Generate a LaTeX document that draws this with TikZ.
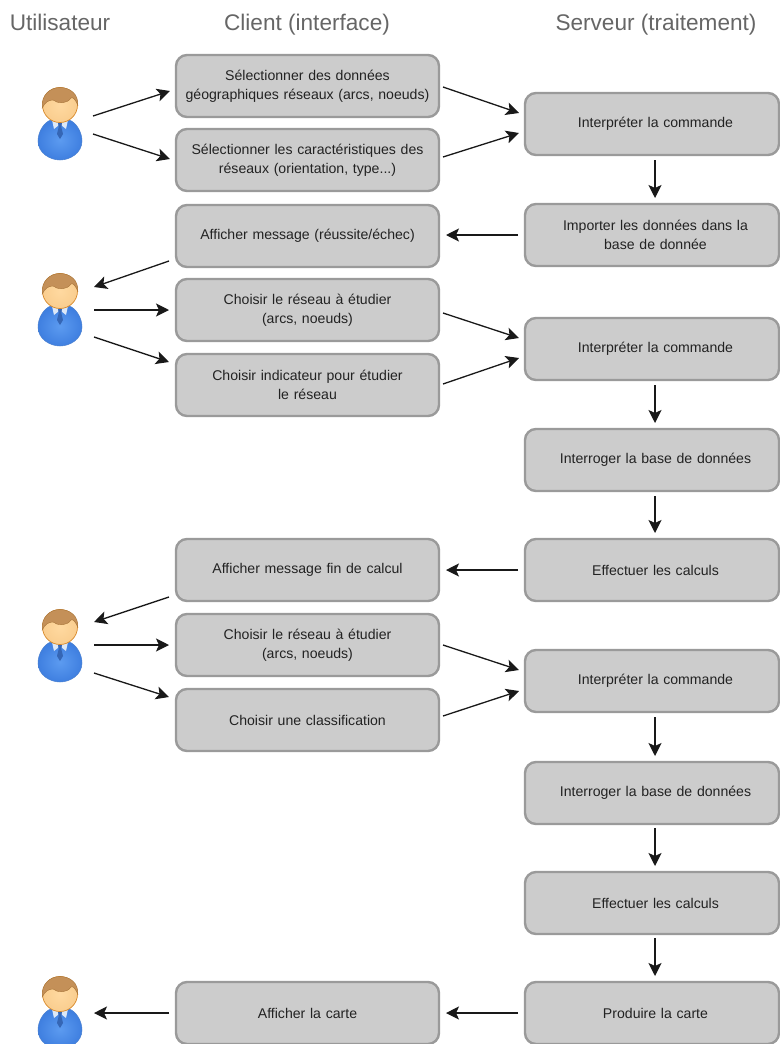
\documentclass[tikz,border=0pt]{standalone}
\usepackage{fontspec}
\setmainfont{Liberation Sans}
\usetikzlibrary{arrows.meta}
\definecolor{boxfill}{HTML}{CCCCCC}
\definecolor{boxline}{HTML}{9A9A9A}
\definecolor{titlegray}{HTML}{666666}
\definecolor{txt}{HTML}{222222}
\definecolor{bodytop}{HTML}{3F7FE0}
\definecolor{bodylow}{HTML}{5C9BF0}
\definecolor{bodyedge}{HTML}{4A80D0}
\definecolor{face}{HTML}{FFD9A0}
\definecolor{faceedge}{HTML}{D98A2B}
\definecolor{hairc}{HTML}{C49058}
\definecolor{hairedge}{HTML}{A87438}
\definecolor{tiec}{HTML}{3566B5}
\definecolor{collar}{HTML}{DCE8F8}
\newcommand\sh{\hspace*{7pt}}
\tikzset{
  x=1pt,y=-1pt,
  box/.style={draw=boxline,fill=boxfill,line width=2.4pt,rounded corners=11pt,inner sep=0pt,outer sep=0pt,
    align=center,text=txt,font=\fontsize{14.1}{19}\selectfont,anchor=north west},
  cbox/.style={box,minimum width=263pt,minimum height=62pt,text width=258pt},
  sbox/.style={box,minimum width=254pt,minimum height=62pt,text width=250pt},
  title/.style={text=titlegray,font=\fontsize{22.6}{26}\selectfont,inner sep=0pt,anchor=base},
  arr/.style={draw=black!90,line width=1.3pt,-{Stealth[length=13pt,width=13pt,inset=3pt]}},
  anchorbox/.style={inner sep=0pt,outer sep=0pt,minimum width=44pt,minimum height=72pt,anchor=north},
  person/.pic={
    % body
    \path[draw=bodyedge,line width=.5pt,inner color=bodylow,outer color=bodytop]
      (-9,32) .. controls (-16,34) and (-22,44) .. (-22,53)
      .. controls (-22,65) and (-10,72) .. (0,72)
      .. controls (10,72) and (22,65) .. (22,53)
      .. controls (22,44) and (16,34) .. (9,32) -- cycle;
    % collar
    \fill[collar] (-8,32) -- (0,35) -- (8,32) -- (6,41) -- (1,37) -- (-1,37) -- (-6,41) -- cycle;
    % tie
    \fill[tiec] (-2,35) -- (2,35) -- (1.3,39) -- (3,46) -- (0,51) -- (-3,46) -- (-1.3,39) -- cycle;
    % head
    \path[inner color=face,outer color=face!85!faceedge,draw=faceedge,line width=.7pt] (0,17) circle[x radius=17.5,y radius=17.5];
    % hair
    \fill[hairc,draw=hairedge,line width=.4pt]
      (-17.8,20) .. controls (-19,7) and (-10,-0.5) .. (0,-0.5)
      .. controls (10,-0.5) and (18.5,6) .. (17.8,17)
      .. controls (15,11) and (13,9) .. (11,10)
      .. controls (7,16) and (-2,16) .. (-7,12)
      .. controls (-11,12) and (-15,14) .. (-17.8,20) -- cycle;
  }
}
\begin{document}
\begin{tikzpicture}
\useasboundingbox (0,0) rectangle (779,1044);
\fill[white] (0,0) rectangle (779,1044);
\node[title] (t1) at (60,30) {Utilisateur};
\node[title] (t2) at (307,30) {Client (interface)};
\node[title] (t3) at (656,30) {Serveur (traitement)};

\node[cbox] (c1) at (176,55) {Sélectionner des données\\géographiques réseaux (arcs, noeuds)};
\node[cbox] (c2) at (176,129) {Sélectionner les caractéristiques des\\réseaux (orientation, type...)};
\node[cbox] (c3) at (176,205) {Afficher message (réussite/échec)};
\node[cbox] (c4) at (176,279) {Choisir le réseau à étudier\\(arcs, noeuds)};
\node[cbox] (c5) at (176,354) {Choisir indicateur pour étudier\\le réseau};
\node[cbox] (c6) at (176,539) {Afficher message fin de calcul};
\node[cbox] (c7) at (176,614) {Choisir le réseau à étudier\\(arcs, noeuds)};
\node[cbox] (c8) at (176,689) {Choisir une classification};
\node[cbox] (c9) at (176,982) {Afficher la carte};

\node[sbox] (s1) at (525,93) {\sh Interpréter la commande};
\node[sbox] (s2) at (525,204) {\sh Importer les données dans la\\\sh base de donnée};
\node[sbox] (s3) at (525,318) {\sh Interpréter la commande};
\node[sbox] (s4) at (525,429) {\sh Interroger la base de données};
\node[sbox] (s5) at (525,539) {\sh Effectuer les calculs};
\node[sbox] (s6) at (525,650) {\sh Interpréter la commande};
\node[sbox] (s7) at (525,762) {\sh Interroger la base de données};
\node[sbox] (s8) at (525,872) {\sh Effectuer les calculs};
\node[sbox] (s9) at (525,982) {\sh Produire la carte};

\node[anchorbox] (u1) at (60,88) {};
\node[anchorbox] (u2) at (60,274) {};
\node[anchorbox] (u3) at (60,610) {};
\node[anchorbox] (u4) at (60,977) {};
\pic at (u1.north) {person};
\pic at (u2.north) {person};
\pic at (u3.north) {person};
\pic at (u4.north) {person};

\draw[arr] ([shift={(11,-8)}]u1.east) -- ([shift={(-6,5)}]c1.west);
\draw[arr] ([shift={(11,10)}]u1.east) -- ([shift={(-6,-1)}]c2.west);
\draw[arr] ([shift={(4,1)}]c1.east) -- ([shift={(-6,-11)}]s1.west);
\draw[arr] ([shift={(4,-3)}]c2.east) -- ([shift={(-6,9)}]s1.west);
\draw[arr] ([shift={(3,5)}]s1.south) -- ([shift={(3,-6)}]s2.north);
\draw[arr] ([xshift=-7]s2.west) -- ([shift={(7,-1)}]c3.east);
\draw[arr] ([shift={(-7,25)}]c3.west) -- ([shift={(12,-23)}]u2.east);
\draw[arr] ([shift={(12,0)}]u2.east) -- ([shift={(-7,0)}]c4.west);
\draw[arr] ([shift={(12,27)}]u2.east) -- ([shift={(-7,-23)}]c5.west) ;
\draw[arr] ([shift={(4,3)}]c4.east) -- ([shift={(-6,-11)}]s3.west);
\draw[arr] ([shift={(4,-1)}]c5.east) -- ([shift={(-6,9)}]s3.west);
\draw[arr] ([shift={(3,5)}]s3.south) -- ([shift={(3,-6)}]s4.north);
\draw[arr] ([shift={(3,5)}]s4.south) -- ([shift={(3,-6)}]s5.north);
\draw[arr] ([xshift=-7]s5.west) -- ([xshift=7]c6.east);
\draw[arr] ([shift={(-7,27)}]c6.west) -- ([shift={(12,-24)}]u3.east);
\draw[arr] ([shift={(12,-1)}]u3.east) -- ([shift={(-7,0)}]c7.west);
\draw[arr] ([shift={(12,27)}]u3.east) -- ([shift={(-7,-23)}]c8.west);
\draw[arr] ([shift={(4,0)}]c7.east) -- ([shift={(-6,-11)}]s6.west);
\draw[arr] ([shift={(4,-4)}]c8.east) -- ([shift={(-6,10)}]s6.west);
\draw[arr] ([shift={(3,5)}]s6.south) -- ([shift={(3,-6)}]s7.north);
\draw[arr] ([shift={(3,4)}]s7.south) -- ([shift={(3,-6)}]s8.north);
\draw[arr] ([shift={(3,4)}]s8.south) -- ([shift={(3,-6)}]s9.north);
\draw[arr] ([xshift=-7]s9.west) -- ([xshift=7]c9.east);
\draw[arr] ([xshift=-7]c9.west) -- ([xshift=12]u4.east);
\end{tikzpicture}
\end{document}
